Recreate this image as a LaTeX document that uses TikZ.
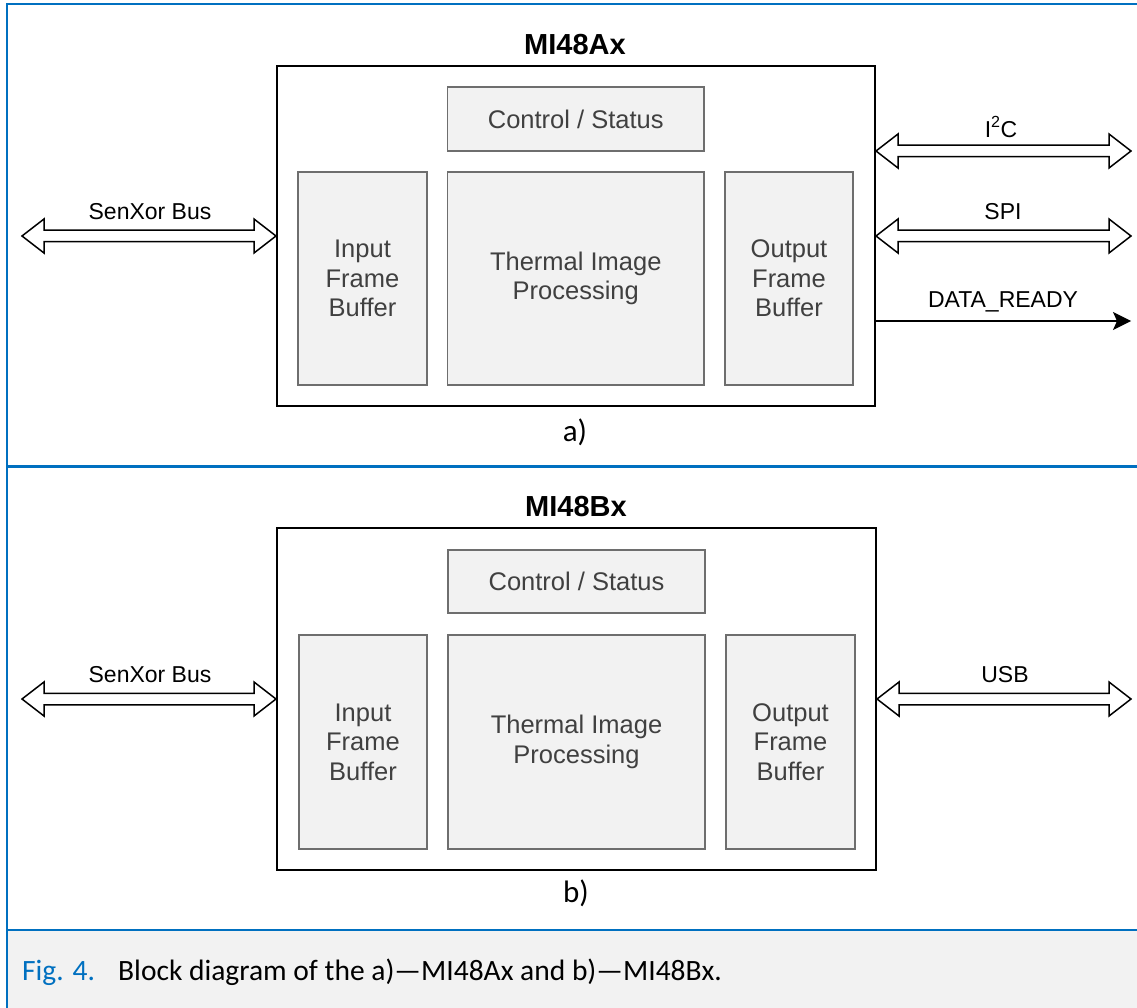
\documentclass[tikz,border=0pt]{standalone}
\usepackage{fontspec}
\setmainfont{Liberation Sans}
\newfontfamily\capfont{Carlito}
\usetikzlibrary{arrows.meta,calc}
\definecolor{frameblue}{HTML}{0070C0}
\definecolor{boxfill}{HTML}{F2F2F2}
\definecolor{boxline}{HTML}{6E6E6E}
\definecolor{txtgray}{HTML}{404040}
\definecolor{capbg}{HTML}{F2F2F2}
\tikzset{
 outerbox/.style={draw=black, line width=2pt, fill=white, inner sep=0pt},
 innerbox/.style={draw=boxline, line width=1.5pt, fill=boxfill, text=txtgray, font=\fontsize{25.5}{29.5}\selectfont, align=center, inner sep=0pt},
 titletext/.style={font=\fontsize{29}{31}\selectfont\bfseries},
 lbl/.style={font=\fontsize{23}{25}\selectfont},
 subtext/.style={font=\capfont\fontsize{31}{33}\selectfont},
 capstyle/.style={font=\capfont\fontsize{29.5}{32}\selectfont, inner sep=0pt, anchor=base west},
 arrowbody/.style={draw=black, line width=1.5pt, fill=white, line join=miter},
 frameline/.style={draw=frameblue, line width=2.5pt},
}
\newcommand\dblarrow[2]{\path[arrowbody] let \p1=#1, \p2=#2 in (\x1,\y1) -- (\x1+22pt,\y1+17pt) -- (\x1+22pt,\y1+5.75pt) -- (\x2-22pt,\y2+5.75pt) -- (\x2-22pt,\y2+17pt) -- (\x2,\y2) -- (\x2-22pt,\y2-17pt) -- (\x2-22pt,\y2-5.75pt) -- (\x1+22pt,\y1-5.75pt) -- (\x1+22pt,\y1-17pt) -- cycle;}
\begin{document}
\begin{tikzpicture}[x=1pt,y=-1pt]
\useasboundingbox (0,0) rectangle (1137,1008);
\fill[white] (0,0) rectangle (1137,1008);
\fill[capbg] (7,930) rectangle (1137,1008);
% frame
\draw[frameline] (1137,4) -- (7,4) -- (7,1008);
\draw[frameline] (7,466.5) -- (1137,466.5);
\draw[frameline] (7,930) -- (1137,930);

% ---------- a) ----------
\node[outerbox, minimum width=598pt, minimum height=340pt] (boxA) at (576,236) {};
\node[titletext] (titleA) at (575,45) {MI48Ax};
\node[innerbox, minimum width=256.5pt, minimum height=64pt] (ctrlA) at (575.75,119) {Control / Status};
\node[innerbox, minimum width=129pt, minimum height=213pt] (inA) at (362.5,278.5) {Input\\Frame\\Buffer};
\node[innerbox, minimum width=256.5pt, minimum height=213pt] (thA) at (575.75,278.5) {Thermal Image\\Processing};
\node[innerbox, minimum width=128pt, minimum height=213pt] (outA) at (789,278.5) {Output\\Frame\\Buffer};
\node[subtext] (subA) at (575,432) {a)};

\coordinate (sbAL) at (22,236);
\dblarrow{(sbAL)}{(boxA.west)}
\node[lbl] (sbAlbl) at (150,212) {SenXor Bus};

\coordinate (i2cR) at (1131,151);
\coordinate (i2cL) at (boxA.east |- i2cR);
\dblarrow{(i2cL)}{(i2cR)}
\node[lbl] (i2clbl) at (1001,127) {I\textsuperscript{2}C};

\coordinate (spiR) at (1131,236);
\dblarrow{(boxA.east)}{(spiR)}
\node[lbl] (spilbl) at (1003,212) {SPI};

\coordinate (drR) at (1131,321);
\draw[line width=1.5pt, -{Stealth[length=18pt,width=18pt,inset=4pt]}] (drR -| boxA.east) -- (drR);
\node[lbl] (drlbl) at (1003,302) {DATA\_READY};

% ---------- b) ----------
\node[outerbox, minimum width=599pt, minimum height=342pt] (boxB) at (576.5,699) {};
\node[titletext] (titleB) at (576,507) {MI48Bx};
\node[innerbox, minimum width=257pt, minimum height=63pt] (ctrlB) at (576.5,581.5) {Control / Status};
\node[innerbox, minimum width=128pt, minimum height=214pt] (inB) at (363,742) {Input\\Frame\\Buffer};
\node[innerbox, minimum width=257pt, minimum height=214pt] (thB) at (576.5,742) {Thermal Image\\Processing};
\node[innerbox, minimum width=129pt, minimum height=214pt] (outB) at (790.5,742) {Output\\Frame\\Buffer};
\node[subtext] (subB) at (576,893) {b)};

\coordinate (sbBL) at (22,699);
\dblarrow{(sbBL)}{(boxB.west)}
\node[lbl] (sbBlbl) at (150,675) {SenXor Bus};

\coordinate (usbR) at (1131,699);
\dblarrow{(boxB.east)}{(usbR)}
\node[lbl] (usblbl) at (1005,675) {USB};

% ---------- caption ----------
\node[capstyle, text=frameblue] (fignum) at (22,980) {Fig. 4.};
\node[capstyle] (captxt) at (118,980) {Block diagram of the a)—MI48Ax and b)—MI48Bx.};
\end{tikzpicture}
\end{document}
